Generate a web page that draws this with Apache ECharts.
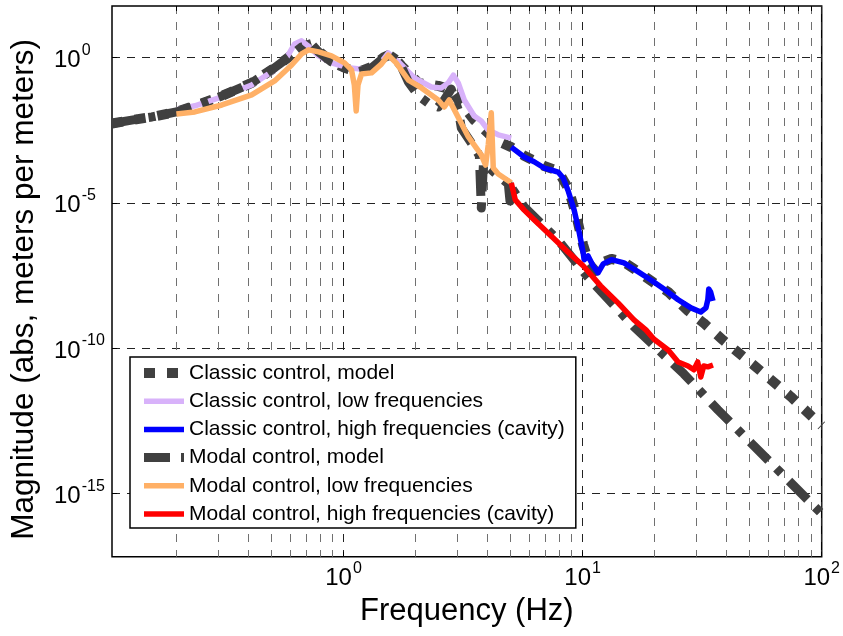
<!DOCTYPE html>
<html><head><meta charset="utf-8">
<script src="https://cdn.jsdelivr.net/npm/echarts@6/dist/echarts.min.js"></script>
<style>html,body{margin:0;padding:0;background:#fff}#c{width:843px;height:636px}</style>
</head><body><div id="c"></div>
<script>
const FONT = '"Liberation Sans", Arial, Helvetica, sans-serif';

// ---- axis ranges / ticks ----
const xRange = [0.1076, 100];
const yRange = [6.46e-18, 60.3];
const xMajorTicks = [1, 10, 100];
const xMinorTicks = [0.2, 0.3, 0.4, 0.5, 0.6, 0.7, 0.8, 0.9, 2, 3, 4, 5, 6, 7, 8, 9, 20, 30, 40, 50, 60, 70, 80, 90];
const yMajorTicks = [1e-15, 1e-10, 1e-5, 1];

const seriesNames = [
  'Classic control, model',
  'Classic control, low frequencies',
  'Classic control, high frequencies (cavity)',
  'Modal control, model',
  'Modal control, low frequencies',
  'Modal control, high frequencies (cavity)'
];

// ---- Classic control, model ----
const cmFreq = [0.1076, 0.13, 0.158, 0.2, 0.239, 0.31, 0.413, 0.515, 0.607, 0.668, 0.735, 0.787, 0.891, 1.01, 1.15, 1.31, 1.48, 1.59, 1.75, 2.06, 2.49, 2.82, 3.02, 3.52, 4.3, 5.03, 5.7, 6.91, 7.9, 8.7, 9.4, 10.05, 10.65, 11.3, 12.2, 13.2, 14.9, 17.1, 19.9, 22.8, 27.6, 32.1, 38.6, 53.0, 74.3, 100];
const cmMag = [5.4e-3, 7.1e-3, 9.1e-3, 1.35e-2, 2.2e-2, 4.8e-2, 0.135, 0.45, 1.23, 2.34, 2.95, 1.70, 0.71, 0.45, 0.32, 0.48, 1.05, 1.35, 0.52, 0.135, 0.107, 7.8e-2, 3.5e-2, 7.1e-3, 1.48e-3, 8.3e-4, 4.2e-4, 1.86e-4, 1.26e-4, 3.2e-5, 3.8e-6, 3.6e-7, 7.9e-8, 4.5e-8, 9.1e-8, 1.17e-7, 9.1e-8, 4.2e-8, 1.74e-8, 8.5e-9, 1.9e-9, 7.2e-10, 1.9e-10, 2.24e-11, 2.1e-12, 2.1e-13];

// ---- Classic control, low frequencies ----
const clFreq = [0.2, 0.239, 0.31, 0.413, 0.515, 0.58, 0.624, 0.668, 0.714, 0.787, 0.891, 1.05, 1.27, 1.44, 1.54, 1.70, 1.98, 2.33, 2.56, 2.74, 2.88, 3.02, 3.2, 3.52, 3.77, 4.03, 4.44, 5.03];
const clMag = [1.58e-2, 2.2e-2, 4.5e-2, 0.115, 0.38, 1.05, 2.95, 3.8, 2.5, 1.15, 0.66, 0.45, 0.38, 0.71, 1.45, 0.71, 0.2, 9.8e-2, 9.1e-2, 0.135, 0.25, 0.135, 3.5e-2, 9.8e-3, 6.6e-3, 3.2e-3, 2.2e-3, 1.7e-3];

// ---- Classic control, high frequencies (cavity) ----
const chFreq = [5.03, 5.7, 6.27, 6.91, 7.39, 7.9, 8.29, 8.7, 9.22, 9.67, 10.05, 10.15, 10.54, 11.06, 11.6, 12.2, 13.2, 14.9, 17.1, 19.3, 21.9, 25.1, 28.4, 31.2, 32.8, 33.4, 33.7, 34.3, 35.1];
const chMag = [8.3e-4, 3.8e-4, 2.6e-4, 1.58e-4, 1.35e-4, 1.15e-4, 7.2e-5, 2.6e-5, 5.6e-6, 1.0e-6, 1.95e-7, 1.1e-7, 1.48e-7, 6.8e-8, 3.9e-8, 7.9e-8, 1.1e-7, 8.5e-8, 4.2e-8, 2.2e-8, 1.07e-8, 4.6e-9, 2.4e-9, 1.74e-9, 2.4e-9, 4.6e-9, 1.07e-8, 8.5e-9, 4.2e-9];

// ---- Modal control, model ----
const mmFreq = [0.1076, 0.13, 0.158, 0.2, 0.239, 0.31, 0.413, 0.515, 0.607, 0.668, 0.735, 0.787, 0.891, 1.01, 1.15, 1.31, 1.54, 1.70, 1.87, 2.06, 2.26, 2.49, 2.64, 2.82, 3.02, 3.11, 3.52, 3.7, 3.77, 3.85, 4.44, 4.89, 4.97, 5.06, 5.7, 7.9, 10.5, 16.4, 26.5, 36.8, 59.5, 100];
const mmMag = [5.4e-3, 7.1e-3, 9.1e-3, 1.35e-2, 2.2e-2, 4.8e-2, 0.135, 0.45, 1.23, 2.34, 2.95, 1.58, 0.71, 0.45, 0.32, 0.44, 1.35, 0.78, 0.145, 4.8e-2, 2.75e-2, 2.0e-2, 3.5e-2, 8.3e-2, 1.58e-2, 3.8e-3, 8.3e-4, 4.2e-4, 6.6e-6, 2.35e-4, 8.5e-5, 4.5e-5, 1.15e-5, 3.2e-5, 7.2e-6, 5.2e-7, 2.8e-8, 5.4e-10, 1.29e-11, 7.4e-13, 1.41e-14, 1.95e-16];

// ---- Modal control, low frequencies ----
const mlFreq = [0.2, 0.239, 0.31, 0.413, 0.515, 0.607, 0.668, 0.714, 0.787, 0.891, 1.01, 1.08, 1.11, 1.13, 1.15, 1.19, 1.31, 1.44, 1.54, 1.66, 1.87, 2.12, 2.49, 2.64, 2.77, 2.91, 3.33, 3.77, 3.93, 4.03, 4.15, 4.19, 4.23, 4.44, 4.70, 5.03];
const mlMag = [1.15e-2, 1.35e-2, 2.35e-2, 5.2e-2, 0.158, 0.56, 1.35, 1.86, 1.58, 1.15, 0.66, 0.38, 0.115, 1.45e-2, 0.115, 0.275, 0.3, 0.6, 1.23, 0.66, 0.17, 9.1e-2, 3.5e-2, 2.0e-2, 3.5e-2, 1.58e-2, 1.86e-3, 4.5e-4, 2.0e-4, 9.8e-4, 1.26e-2, 1.48e-3, 1.58e-4, 9.8e-5, 7.2e-5, 4.9e-5];

// ---- Modal control, high frequencies (cavity) ----
const mhFreq = [5.03, 5.23, 5.7, 6.27, 7.39, 8.7, 10.05, 11.9, 14.1, 16.4, 18.4, 19.9, 22.8, 25.1, 27.6, 29.2, 30.3, 31.2, 32.1, 33.4, 35.1];
const mhMag = [4.9e-5, 1.26e-5, 5.6e-6, 2.6e-6, 7.2e-7, 2.0e-7, 6.8e-8, 1.38e-8, 3.5e-9, 9.3e-10, 4.2e-10, 2.0e-10, 8.5e-11, 3.3e-11, 2.4e-11, 1.78e-11, 3.3e-11, 1.0e-11, 2.4e-11, 2.24e-11, 2.6e-11];

function pairs(fs, ms) { return fs.map((f, i) => [f, ms[i]]); }

const DARK = '#404040';
const seriesStyles = [
  { color: DARK, width: 10, type: [11, 12] },
  { color: '#D8B2FA', width: 5.5, type: 'solid' },
  { color: '#0000FF', width: 5.5, type: 'solid' },
  { color: DARK, width: 9, type: [26, 11, 7, 11] },
  { color: '#FFB066', width: 5.5, type: 'solid' },
  { color: '#FF0000', width: 5.5, type: 'solid' }
];
const seriesData = [
  pairs(cmFreq, cmMag), pairs(clFreq, clMag), pairs(chFreq, chMag),
  pairs(mmFreq, mmMag), pairs(mlFreq, mlMag), pairs(mhFreq, mhMag)
];

function expLabel(v) {
  const e = Math.round(Math.log10(v));
  return '{b|10}{s|' + e + '}';
}
const richLbl = {
  b: { fontSize: 24, fontFamily: FONT, color: '#000', lineHeight: 30, verticalAlign: 'bottom' },
  s: { fontSize: 16, fontFamily: FONT, color: '#000', lineHeight: 30, verticalAlign: 'top', padding: [0, 0, 0, 1] }
};

const chart = echarts.init(document.getElementById('c'), null, { renderer: 'canvas' });
chart.setOption({
  animation: false,
  backgroundColor: '#fff',
  textStyle: { fontFamily: FONT },
  grid: { left: 110, right: 21.3, top: 6, bottom: 79.3, show: true, borderColor: '#000', borderWidth: 1.5, backgroundColor: 'transparent' },
  xAxis: [{
    type: 'log', logBase: 10, min: xRange[0], max: xRange[1], position: 'bottom',
    name: 'Frequency (Hz)', nameLocation: 'middle', nameGap: 36,
    nameTextStyle: { fontSize: 31, color: '#000', fontFamily: FONT },
    axisLine: { show: false },
    axisTick: { show: true, inside: true, length: 5, customValues: xMajorTicks, lineStyle: { color: '#000' } },
    axisLabel: { customValues: xMajorTicks, formatter: expLabel, rich: richLbl, margin: 4 },
    splitLine: { show: true, lineStyle: { color: '#222', width: 1, type: [8, 8] } },
    minorTick: { show: false }, minorSplitLine: { show: false }
  }, {
    type: 'log', logBase: 10, min: xRange[0], max: xRange[1], position: 'top',
    axisLine: { show: false },
    axisTick: { show: true, inside: true, length: 5, customValues: xMinorTicks, lineStyle: { color: '#000' } },
    axisLabel: { show: false },
    splitLine: { show: true, lineStyle: { color: '#707070', width: 1, type: [8, 8] } }
  }],
  yAxis: [{
    type: 'log', logBase: 10, min: yRange[0], max: yRange[1],
    name: 'Magnitude (abs, meters per meters)', nameLocation: 'middle', nameGap: 72,
    nameTextStyle: { fontSize: 31.5, color: '#000', fontFamily: FONT, padding: [0, 16, 0, 0] },
    axisLine: { show: false },
    axisTick: { show: true, inside: true, length: 5, customValues: yMajorTicks, lineStyle: { color: '#000' } },
    axisLabel: { customValues: yMajorTicks, formatter: expLabel, rich: richLbl, margin: 58, align: 'left' },
    splitLine: { show: true, lineStyle: { color: '#222', width: 1, type: [8, 7] } }
  }],
  legend: {
    orient: 'vertical', left: 130, top: 357,
    padding: [4, 11, 2, 9],
    backgroundColor: '#fff', borderColor: '#000', borderWidth: 1.5, borderRadius: 0,
    itemWidth: 40, itemHeight: 12, itemGap: 4.2,
    itemStyle: { color: 'transparent', borderColor: 'transparent', borderWidth: 0, opacity: 0 },
    lineStyle: { width: 'inherit', type: 'inherit', cap: 'butt' },
    textStyle: { fontSize: 21, color: '#000', fontFamily: FONT, lineHeight: 24 },
    data: seriesNames,
    selectedMode: false
  },
  series: seriesNames.map((name, i) => ({
    name: name, type: 'line', xAxisIndex: 0, yAxisIndex: 0,
    data: seriesData[i], symbol: 'none', smooth: false,
    lineStyle: { color: seriesStyles[i].color, width: seriesStyles[i].width, type: seriesStyles[i].type, cap: 'butt', join: 'round' },
    itemStyle: { color: seriesStyles[i].color },
    z: 2 + i
  }))
});
</script></body></html>
